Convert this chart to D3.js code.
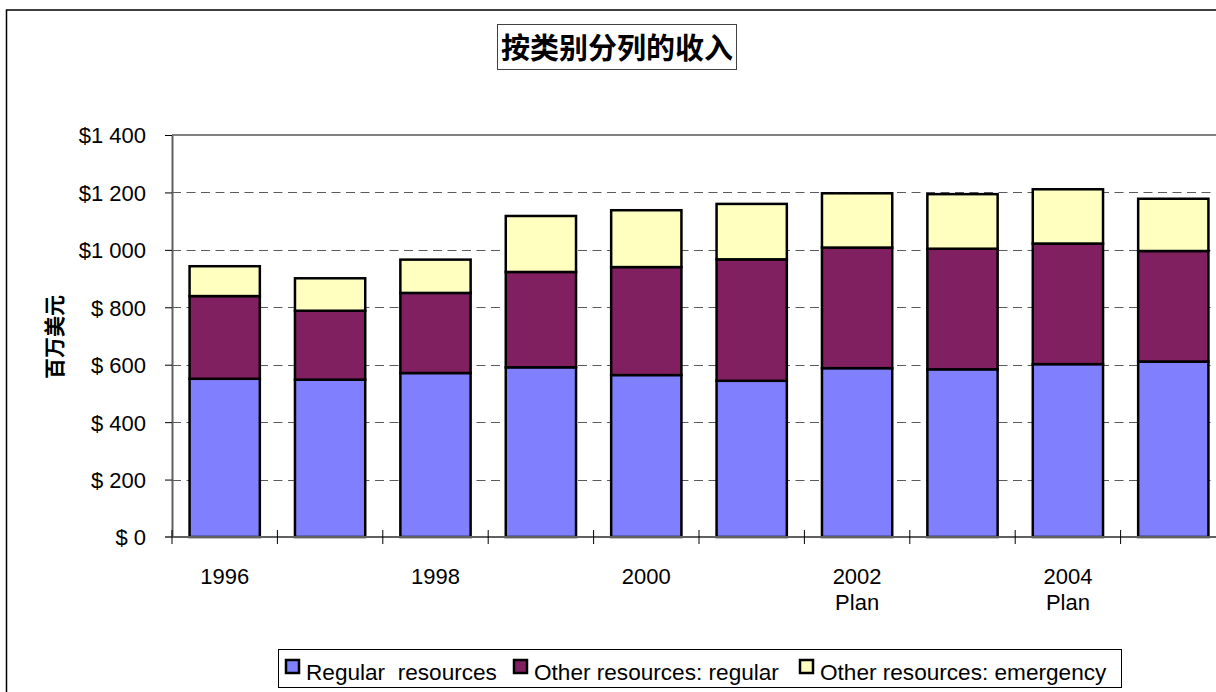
<!DOCTYPE html>
<html>
<head>
<meta charset="utf-8">
<style>
  body { margin: 0; background: #fff; }
  svg text { font-family: "Liberation Sans", Arial, sans-serif; fill: #000; }
  svg .cjk { font-family: "Noto Sans CJK SC", sans-serif; }
  svg .grid { stroke: #5a5a5a; stroke-width: 1px; stroke-dasharray: 9,5.5; }
  svg .bar { stroke: #000; stroke-width: 2.5px; }
</style>
</head>
<body>
<script src="https://cdn.jsdelivr.net/npm/d3@7"></script>
<script>
// data (millions of US$)
var years = ["1996", "1997", "1998", "1999", "2000", "2001", "2002 Plan", "2003 Plan", "2004 Plan", "2005 Plan"];
var regular   = [551, 548, 571, 591, 564, 544, 588, 584, 602, 611];
var otherReg  = [288, 240, 279, 332, 376, 423, 420, 420, 420, 385];
var emergency = [104, 113, 116, 195, 198, 193, 189, 190, 189, 182];

var seriesNames = ["Regular  resources", "Other resources: regular", "Other resources: emergency"];
var seriesColors = ["#8080ff", "#802060", "#ffffc0"];

var yTicks = [0, 200, 400, 600, 800, 1000, 1200, 1400];
var yTickLabels = ["$ 0", "$ 200", "$ 400", "$ 600", "$ 800", "$1 000", "$1 200", "$1 400"];
var xTickLabels = [["1996"], [], ["1998"], [], ["2000"], [], ["2002", "Plan"], [], ["2004", "Plan"], []];

var title = "按类别分列的收入";
var yTitle = "百万美元";

var W = 1216, H = 692;
var plot = { left: 172, right: 1226, top: 135, bottom: 537 };

var svg = d3.select("body").append("svg")
    .attr("width", W)
    .attr("height", H);

// chart area border (runs off the right and bottom edge)
svg.append("rect")
    .attr("x", 6.5).attr("y", 10)
    .attr("width", 1240).attr("height", 720)
    .style("fill", "#fff")
    .style("stroke", "#000")
    .style("stroke-width", "1.5px");

var x = d3.scaleBand()
    .domain(years)
    .range([plot.left, plot.right])
    .paddingInner(1 / 3)
    .paddingOuter(1 / 6);

var y = d3.scaleLinear().domain([0, 1400]).range([plot.bottom, plot.top]);

// dashed grid lines
svg.append("g")
  .selectAll("line")
  .data(yTicks.filter(function (d) { return d > 0 && d < 1400; }))
  .enter().append("line")
    .classed("grid", true)
    .attr("x1", plot.left).attr("x2", plot.right)
    .attr("y1", function (d) { return Math.round(y(d)) + 0.5; })
    .attr("y2", function (d) { return Math.round(y(d)) + 0.5; });

// plot area top border
svg.append("line")
    .attr("x1", plot.left).attr("x2", plot.right)
    .attr("y1", y(1400)).attr("y2", y(1400))
    .style("stroke", "#808080").style("stroke-width", "2px");

// stacked bars
var table = years.map(function (yr, i) {
  return { year: yr, s0: regular[i], s1: otherReg[i], s2: emergency[i] };
});
var stack = d3.stack().keys(["s0", "s1", "s2"])(table);

svg.append("g")
  .selectAll("g")
  .data(stack)
  .enter().append("g")
    .style("fill", function (d, i) { return seriesColors[i]; })
  .selectAll("rect")
  .data(function (d) { return d; })
  .enter().append("rect")
    .classed("bar", true)
    .attr("x", function (d) { return x(d.data.year); })
    .attr("width", x.bandwidth())
    .attr("y", function (d) { return y(d[1]); })
    .attr("height", function (d) { return y(d[0]) - y(d[1]); });

// y axis
var yAxis = d3.axisLeft(y)
    .tickValues(yTicks)
    .tickFormat(function (d, i) { return yTickLabels[i]; })
    .tickSizeInner(7)
    .tickSizeOuter(0)
    .tickPadding(19);

var ya = svg.append("g")
    .attr("transform", "translate(" + plot.left + ",0)")
    .call(yAxis);
ya.select(".domain").style("stroke", "#606060").style("stroke-width", "2px");
ya.selectAll(".tick line").style("stroke", "#000");
ya.selectAll(".tick text").style("font-size", "22px").attr("dy", "0.36em");

// x axis: ticks between categories, crossing the axis line
var xa = svg.append("g");
xa.append("line")
    .attr("x1", plot.left - 7).attr("x2", plot.right)
    .attr("y1", plot.bottom).attr("y2", plot.bottom)
    .style("stroke", "#606060").style("stroke-width", "2px");
xa.selectAll("line.xtick")
  .data(d3.range(years.length + 1))
  .enter().append("line")
    .classed("xtick", true)
    .attr("x1", function (i) { return plot.left + i * x.step(); })
    .attr("x2", function (i) { return plot.left + i * x.step(); })
    .attr("y1", plot.bottom - 7).attr("y2", plot.bottom + 7)
    .style("stroke", "#000").style("stroke-width", "1px");

xa.selectAll("text")
  .data(years)
  .enter().append("text")
    .attr("text-anchor", "middle")
    .style("font-size", "22px")
    .attr("transform", function (d) {
      return "translate(" + (x(d) + x.bandwidth() / 2) + "," + 584 + ")";
    })
  .selectAll("tspan")
  .data(function (d, i) { return xTickLabels[i]; })
  .enter().append("tspan")
    .attr("x", 0)
    .attr("y", function (d, j) { return j * 26; })
    .text(function (d) { return d; });

// y title
svg.append("text")
    .classed("cjk", true)
    .attr("transform", "translate(62,337) rotate(-90)")
    .attr("text-anchor", "middle")
    .style("font-size", "21px")
    .style("font-weight", "bold")
    .text(yTitle);

// title in a box
svg.append("rect")
    .attr("x", 497.5).attr("y", 24.5)
    .attr("width", 239).attr("height", 45)
    .style("fill", "#fff").style("stroke", "#404040").style("stroke-width", "1px");
svg.append("text")
    .classed("cjk", true)
    .attr("x", 617).attr("y", 59)
    .attr("text-anchor", "middle")
    .style("font-size", "29px")
    .style("font-weight", "bold")
    .text(title);

// legend
var legendX = [286, 514, 800];
var legend = svg.append("g");
legend.append("rect")
    .attr("x", 278.5).attr("y", 649.5)
    .attr("width", 843).attr("height", 38)
    .style("fill", "#fff").style("stroke", "#000").style("stroke-width", "1px");
var items = legend.selectAll("g.item")
  .data(seriesNames)
  .enter().append("g")
    .classed("item", true)
    .attr("transform", function (d, i) { return "translate(" + legendX[i] + ",660)"; });
items.append("rect")
    .attr("width", 13).attr("height", 13)
    .style("fill", function (d, i) { return seriesColors[i]; })
    .style("stroke", "#000").style("stroke-width", "2.5px");
items.append("text")
    .attr("x", 20).attr("y", 20)
    .style("font-size", "22.6px")
    .style("white-space", "pre")
    .text(function (d) { return d; });
</script>
</body>
</html>
